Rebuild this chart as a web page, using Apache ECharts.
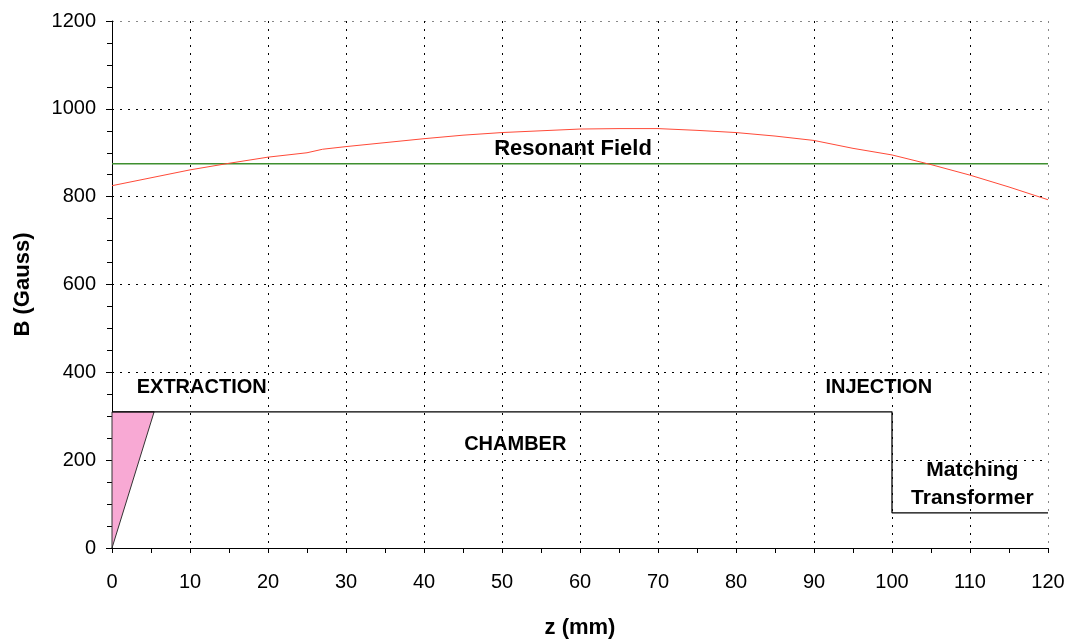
<!DOCTYPE html>
<html>
<head>
<meta charset="utf-8">
<title>Axial magnetic field profile</title>
<script src="https://cdn.jsdelivr.net/npm/echarts@6/dist/echarts.min.js"></script>
<style>
  html, body { margin: 0; padding: 0; background: #fff; }
  #chart { width: 1070px; height: 640px; }
</style>
</head>
<body>
<div id="chart"></div>
<script>
// Axial field profile B(z) along the source
const zPoints = [0, 5, 10, 15, 20, 25, 27, 30, 35, 40, 45, 50, 55, 60, 65, 70, 75, 80, 85, 90, 95, 100, 105, 110, 115, 120];
const bField  = [825, 843, 861, 876, 890, 900, 908, 914, 923, 932, 940, 946, 950, 954, 955, 955, 951, 946, 938, 928, 910, 895, 873, 849, 822, 793];

// ECR resonance level (Gauss)
const resonantField = 875;

// Chamber outline (z in mm, drawn on the B scale)
const chamberZ = [0, 100, 100, 120];
const chamberB = [310, 310, 80, 80];

// Extraction wedge
const extractionZ = [0, 0, 5.4];
const extractionB = [0, 310, 310];

// Axis ticks
const xTicks = [0, 10, 20, 30, 40, 50, 60, 70, 80, 90, 100, 110, 120];
const yTicks = [0, 200, 400, 600, 800, 1000, 1200];

// Annotation texts
const labelTexts = ['EXTRACTION', 'INJECTION', 'CHAMBER', 'Resonant Field', 'Matching\nTransformer'];

const FONT = '"Liberation Sans", Arial, sans-serif';

const chart = echarts.init(document.getElementById('chart'), null, { renderer: 'canvas' });

const gridColorsX = xTicks.map((v, i) => i === xTicks.length - 1 ? '#888' : '#000');
const gridColorsY = yTicks.map((v, i) => i === yTicks.length - 1 ? '#888' : '#000');

const labelPlacement = [
  { z: 11.5, b: 366, size: 20 },
  { z: 98.3, b: 366, size: 20 },
  { z: 51.7, b: 235, size: 20 },
  { z: 59.1, b: 908, size: 22 },
  { z: 110.3, b: 146, size: 21 }
];

const option = {
  animation: false,
  backgroundColor: '#fff',
  grid: { left: 112, right: 22, top: 21, bottom: 92, containLabel: false, outerBoundsMode: 'none' },
  xAxis: {
    type: 'value',
    min: xTicks[0],
    max: xTicks[xTicks.length - 1],
    interval: 10,
    name: 'z (mm)',
    nameLocation: 'middle',
    nameGap: 69,
    nameTextStyle: { fontFamily: FONT, fontSize: 22, fontWeight: 'bold', color: '#000' },
    axisLine: { show: true, onZero: false, lineStyle: { color: '#000', width: 1 } },
    axisTick: { show: true, inside: false, length: 5, lineStyle: { color: '#000' } },
    minorTick: { show: true, splitNumber: 2, length: 5, lineStyle: { color: '#000' } },
    axisLabel: { fontFamily: FONT, fontSize: 20, color: '#000', margin: 24, formatter: v => String(v) },
    splitLine: { show: true, lineStyle: { color: gridColorsX, type: [2, 6], width: 1 } }
  },
  yAxis: {
    type: 'value',
    min: yTicks[0],
    max: yTicks[yTicks.length - 1],
    interval: 200,
    name: 'B (Gauss)',
    nameLocation: 'middle',
    nameGap: 78,
    nameRotate: 90,
    nameTextStyle: { fontFamily: FONT, fontSize: 22, fontWeight: 'bold', color: '#000' },
    axisLine: { show: true, onZero: false, lineStyle: { color: '#000', width: 1 } },
    axisTick: { show: true, inside: false, length: 6, lineStyle: { color: '#000' } },
    minorTick: { show: true, splitNumber: 4, length: 5, lineStyle: { color: '#000' } },
    axisLabel: { fontFamily: FONT, fontSize: 20, color: '#000', margin: 16, formatter: v => String(v) },
    splitLine: { show: true, lineStyle: { color: gridColorsY, type: [2, 6], width: 1 } }
  },
  series: [
    {
      name: 'Extraction',
      type: 'custom',
      silent: true,
      z: 3,
      data: [0],
      renderItem: function (params, api) {
        const pts = extractionZ.map((z, i) => api.coord([z, extractionB[i]]));
        return {
          type: 'polygon',
          shape: { points: pts },
          style: { fill: '#f8a9d4', stroke: '#333', lineWidth: 1 }
        };
      }
    },
    {
      name: 'Chamber',
      type: 'line',
      z: 4,
      symbol: 'none',
      data: chamberZ.map((z, i) => [z, chamberB[i]]),
      lineStyle: { color: '#000', width: 1.3 }
    },
    {
      name: 'Resonant Field',
      type: 'line',
      z: 4,
      symbol: 'none',
      data: [[xTicks[0], resonantField], [xTicks[xTicks.length - 1], resonantField]],
      lineStyle: { color: '#3f8f30', width: 1.5 }
    },
    {
      name: 'B',
      type: 'line',
      z: 5,
      symbol: 'none',
      smooth: false,
      data: zPoints.map((z, i) => [z, bField[i]]),
      lineStyle: { color: '#ff4a38', width: 1 }
    },
    {
      name: 'Labels',
      type: 'scatter',
      z: 6,
      silent: true,
      symbolSize: 0,
      itemStyle: { opacity: 1 },
      data: labelTexts.map((t, i) => ({
        value: [labelPlacement[i].z, labelPlacement[i].b],
        label: {
          show: true,
          position: 'inside',
          formatter: t,
          fontFamily: FONT,
          fontWeight: 'bold',
          fontSize: labelPlacement[i].size,
          lineHeight: 28,
          color: '#000',
          opacity: 1,
          align: 'center',
          verticalAlign: 'middle'
        }
      }))
    }
  ]
};

chart.setOption(option);
</script>
</body>
</html>
